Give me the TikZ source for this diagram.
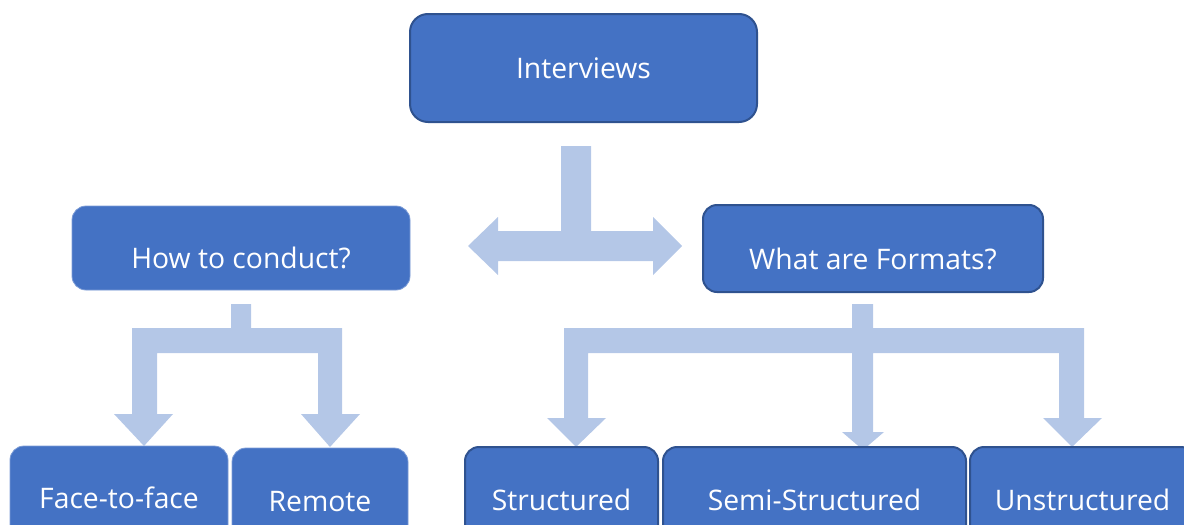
\documentclass[tikz,border=0pt]{standalone}
\usepackage{fontspec}
\setmainfont{Open Sans}
\definecolor{boxfill}{HTML}{4472C4}
\definecolor{boxline}{HTML}{2F528F}
\definecolor{arrowfill}{HTML}{B4C7E7}
\begin{document}
\begin{tikzpicture}[x=1pt,y=-1pt,
  box/.style={rectangle, rounded corners=14pt, fill=boxfill, text=white,
    font=\fontsize{28.3}{33}\selectfont, inner sep=0pt,
    text height=20.2pt, text depth=0pt},
  lowtext/.style={text height=41.2pt},
  darkedge/.style={draw=boxline, line width=2pt},
  lightedge/.style={draw=boxfill!70!white, line width=0.8pt},
  blockarrow/.style={fill=arrowfill, draw=none}]
\useasboundingbox (0,0) rectangle (1184,525);
\clip (0,0) rectangle (1184,525);

% block arrows
\fill[blockarrow] (561,146) -- (591,146) -- (591,231) -- (653,231) -- (653,217)
  -- (682,246) -- (653,275) -- (653,261) -- (498,261) -- (498,275) -- (468,246)
  -- (498,217) -- (498,231) -- (561,231) -- cycle;
\fill[blockarrow] (231,304) -- (251,304) -- (251,328) -- (342,328) -- (342,414)
  -- (360,414) -- (330,447) -- (301,414) -- (318,414) -- (318,353) -- (157,353)
  -- (157,414) -- (173,414) -- (144,446) -- (114,414) -- (132,414) -- (132,328)
  -- (231,328) -- cycle;
\fill[blockarrow] (852,304) -- (873,304) -- (873,328) -- (1084,328) -- (1084,418)
  -- (1102,418) -- (1072,447) -- (1043,418) -- (1059,418) -- (1059,353) -- (873,353)
  -- (873,432) -- (884,432) -- (863,450) -- (842,432) -- (852,432) -- (852,353)
  -- (588,353) -- (588,418) -- (606,418) -- (576,447) -- (547,418) -- (564,418)
  -- (564,328) -- (852,328) -- cycle;

% boxes
\node[box, darkedge, rounded corners=18pt, minimum width=347pt, minimum height=108pt]
  (interviews) at (583.5,68) {Interviews};
\node[box, lightedge, lowtext, minimum width=338pt, minimum height=84pt]
  (how) at (241,248) {How to conduct?};
\node[box, darkedge, lowtext, minimum width=340pt, minimum height=87pt]
  (what) at (873,248.5) {What are Formats?};
\node[box, lightedge, minimum width=218pt, minimum height=104pt]
  (face) at (119,498) {Face-to-face};
\node[box, lightedge, minimum width=176pt, minimum height=106pt]
  (remote) at (320,501) {Remote};
\node[box, darkedge, minimum width=193pt, minimum height=107pt]
  (structured) at (561.5,500.5) {Structured};
\node[box, darkedge, minimum width=303pt, minimum height=107pt]
  (semi) at (814.5,500.5) {Semi-Structured};
\node[box, darkedge, minimum width=225pt, minimum height=107pt]
  (unstructured) at (1082.5,500.5) {Unstructured};
\end{tikzpicture}
\end{document}
